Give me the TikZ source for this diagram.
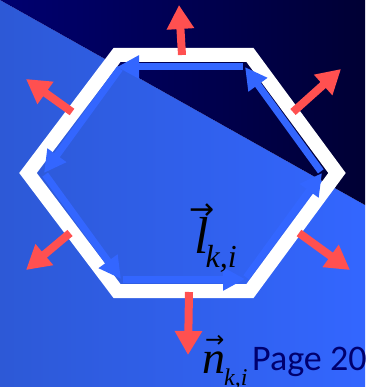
\documentclass[tikz,border=0pt]{standalone}
\usepackage{fontspec}
\setmainfont{Liberation Serif}
\newfontfamily\carlito{Carlito}
\newfontfamily\arrowfont{DejaVu Sans}
\usetikzlibrary{arrows.meta}
\definecolor{navyL}{RGB}{0,0,112}
\definecolor{navyR}{RGB}{0,0,52}
\definecolor{bgBlueL}{RGB}{45,89,214}
\definecolor{bgBlueR}{RGB}{51,102,255}
\definecolor{arrowBlue}{RGB}{51,102,255}
\definecolor{normRed}{RGB}{255,80,80}
\definecolor{pageNavy}{RGB}{0,0,110}
% #1 letter, #2 arrow size, #3 raise, #4 horizontal shift
\newcommand{\vecletter}[4]{\setbox0\hbox{\itshape #1}\rlap{\hbox to \wd0{\hss\kern#4\raisebox{#3}{\arrowfont\fontsize{#2}{#2}\selectfont\char"2192}\hss}}\box0}
\tikzset{
  hexline/.style={draw=white, line width=14pt, line join=miter},
  tangent/.style={draw=arrowBlue, line width=7pt, -{Triangle[length=22pt,width=22pt]}},
  normal/.style={draw=normRed, line width=8pt, -{Triangle[length=24pt,width=26pt]}},
  mathlabel/.style={anchor=base west, inner sep=0pt, text=black},
}
\begin{document}
\begin{tikzpicture}[x=1pt,y=-1pt]
\useasboundingbox (0,0) rectangle (365,387);
% background
\shade[left color=bgBlueL, right color=bgBlueR] (0,0) -- (365,205) -- (365,387) -- (0,387) -- cycle;
\shade[left color=navyL, right color=navyR] (0,0) -- (365,0) -- (365,205) -- cycle;
% hexagon vertices (centre line)
\coordinate (A) at (28,173);
\coordinate (B) at (117,55);
\coordinate (C) at (250,55);
\coordinate (D) at (337,173);
\coordinate (E) at (250,291);
\coordinate (F) at (117,291);
% inner vertices for tangent arrows
\coordinate (Ai) at (44,173);
\coordinate (Bi) at (121,67);
\coordinate (Ci) at (245,67);
\coordinate (Di) at (322,173);
\coordinate (Ei) at (245,279);
\coordinate (Fi) at (121,279);
\draw[hexline] (A) -- (B) -- (C) -- (D) -- (E) -- (F) -- cycle;
% tangent arrows (counter-clockwise)
\draw[tangent, shorten <=2pt] (Ei) -- (Di);
\draw[tangent, shorten <=2pt] (Di) -- (Ci);
\draw[tangent, shorten <=2pt, shorten >=-4pt] (Ci) -- (Bi);
\draw[tangent, shorten <=2pt] (Bi) -- (Ai);
\draw[tangent, shorten <=2pt] (Ai) -- (Fi);
\draw[tangent, shorten <=2pt] (Fi) -- (Ei);
% normal arrows
\coordinate (n1s) at (182,55);  \coordinate (n1e) at (179,5);
\coordinate (n2s) at (293,112); \coordinate (n2e) at (341,69);
\coordinate (n3s) at (72,112);  \coordinate (n3e) at (26,79);
\coordinate (n4s) at (70,233);  \coordinate (n4e) at (26,270);
\coordinate (n5s) at (299,233); \coordinate (n5e) at (350,270);
\coordinate (n6s) at (189,292); \coordinate (n6e) at (188,355);
\draw[normal] (n1s) -- (n1e);
\draw[normal] (n2s) -- (n2e);
\draw[normal] (n3s) -- (n3e);
\draw[normal] (n4s) -- (n4e);
\draw[normal] (n5s) -- (n5e);
\draw[normal] (n6s) -- (n6e);
% labels
\node[mathlabel] (lab) at (194,253) {\fontsize{52}{52}\selectfont\vecletter{l}{30}{34pt}{2pt}\kern-3pt\raisebox{-14pt}{\fontsize{32}{32}\selectfont\itshape k,i}};
\node[mathlabel] (nlab) at (202,373) {\fontsize{46}{46}\selectfont\vecletter{n}{23}{26pt}{2pt}\kern-1pt\raisebox{-12pt}{\fontsize{24}{24}\selectfont\itshape k,i}};
\node[anchor=base west, inner sep=0pt, text=pageNavy, font=\carlito\fontsize{36}{36}\selectfont] (page) at (252,370) {Page 20};
\end{tikzpicture}
\end{document}
